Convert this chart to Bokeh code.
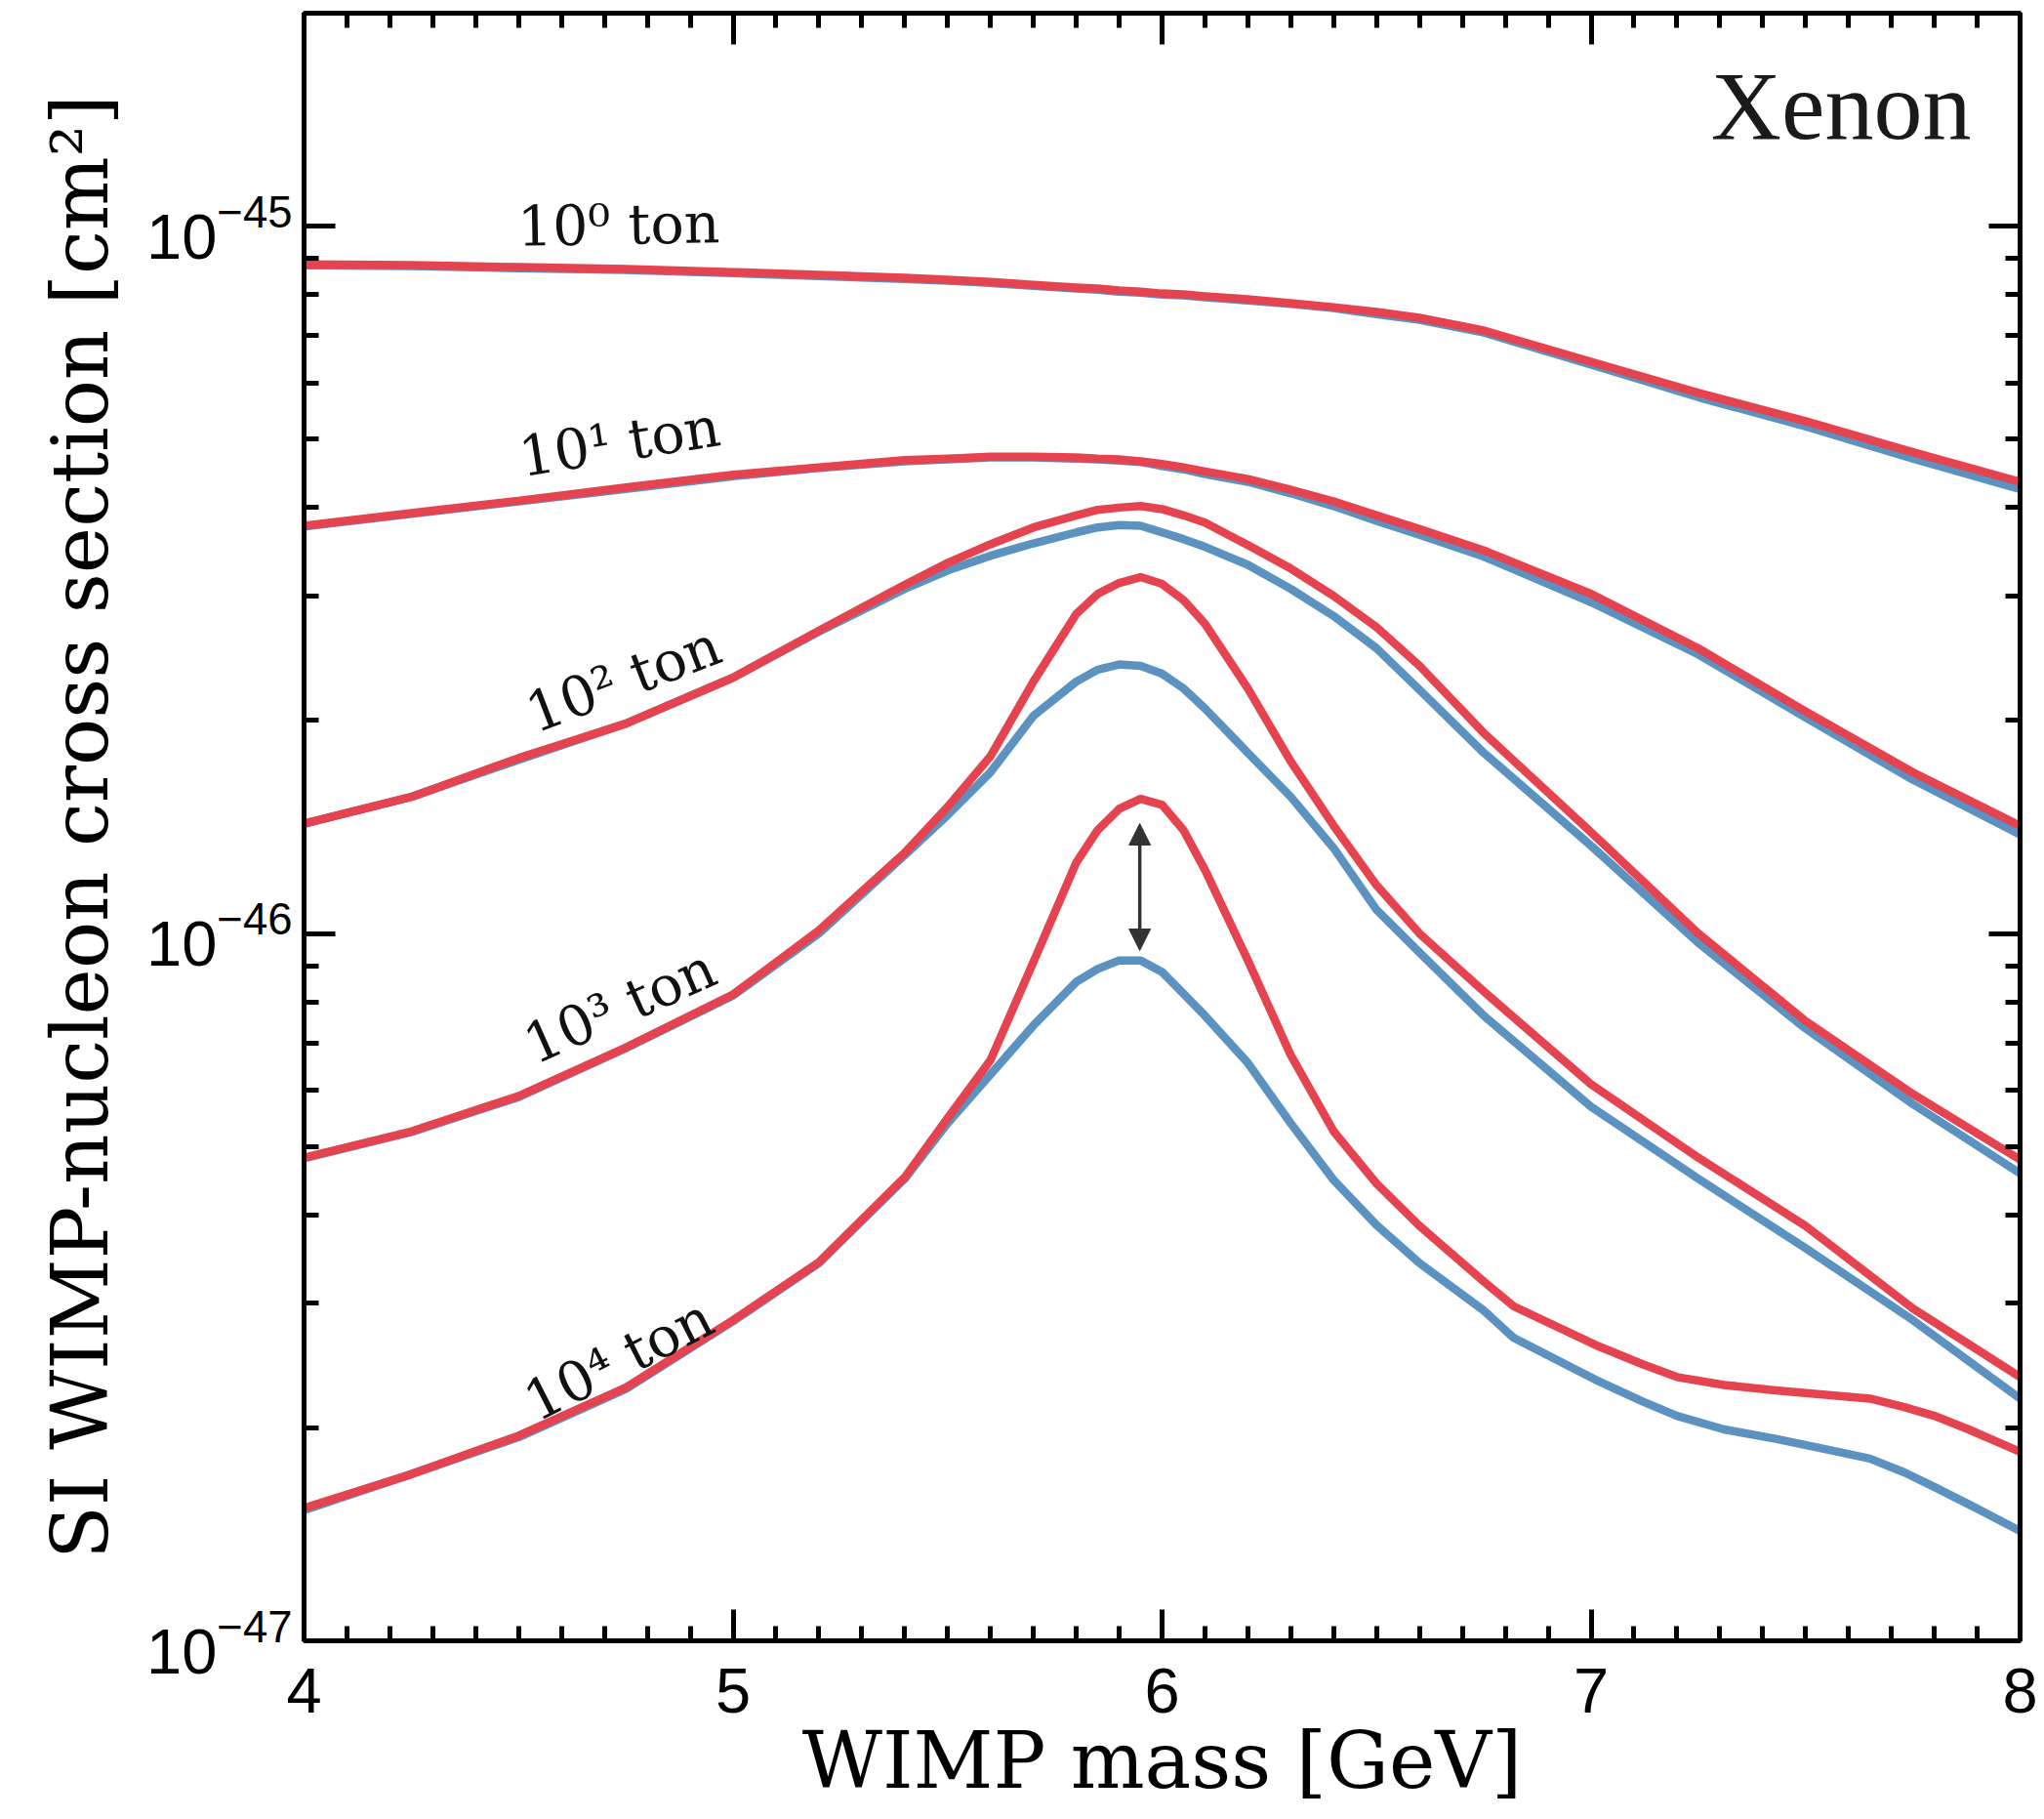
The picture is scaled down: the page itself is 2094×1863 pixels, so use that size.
from bokeh.plotting import figure
from bokeh.models import (ColumnDataSource, LinearAxis, LogAxis, FixedTicker,
                          SingleIntervalTicker, Arrow, NormalHead, Label,
                          CustomJSTickFormatter, LogTickFormatter)
from bokeh.core.properties import value
from bokeh.embed import file_html
from bokeh.resources import INLINE
import numpy as np

# ---------------- data ----------------
# WIMP mass [GeV]
mass = [4.0, 4.25, 4.5, 4.75, 5.0, 5.2, 5.4, 5.5, 5.6, 5.7, 5.8, 5.85, 5.9, 5.95,
        6.0, 6.05, 6.1, 6.2, 6.3, 6.4, 6.5, 6.6, 6.75, 7.0, 7.25, 7.5, 7.75, 8.0]
# the 10^4 ton curves were read on a finer grid in the tail
mass_1e4 = [4.0, 4.25, 4.5, 4.75, 5.0, 5.2, 5.4, 5.5, 5.6, 5.7, 5.8, 5.85, 5.9, 5.95,
            6.0, 6.05, 6.1, 6.2, 6.3, 6.4, 6.5, 6.6, 6.75, 6.82, 7.01, 7.12, 7.2, 7.31,
            7.43, 7.54, 7.65, 7.73, 7.8, 7.88, 8.0]

UNIT = 1e-46  # cross sections below are in units of 1e-46 cm^2

# exposure 10^0 ton
red_1e0 = [8.83, 8.81, 8.75, 8.70, 8.61, 8.53, 8.45, 8.40, 8.34, 8.26, 8.19, 8.16, 8.11, 8.08,
           8.03, 8.01, 7.96, 7.88, 7.78, 7.68, 7.56, 7.42, 7.12, 6.43, 5.81, 5.30, 4.79, 4.35]
blue_1e0 = [8.80, 8.78, 8.72, 8.67, 8.58, 8.50, 8.42, 8.37, 8.31, 8.23, 8.16, 8.13, 8.08, 8.05,
            8.00, 7.98, 7.93, 7.85, 7.76, 7.66, 7.51, 7.37, 7.07, 6.37, 5.73, 5.21, 4.69, 4.25]
# exposure 10^1 ton
red_1e1 = [3.77, 3.93, 4.09, 4.27, 4.45, 4.56, 4.67, 4.69, 4.72, 4.72, 4.71, 4.69, 4.68, 4.65,
           4.61, 4.56, 4.50, 4.39, 4.24, 4.08, 3.90, 3.73, 3.48, 3.02, 2.53, 2.06, 1.69, 1.42]
blue_1e1 = [3.76, 3.92, 4.08, 4.25, 4.43, 4.55, 4.65, 4.68, 4.71, 4.71, 4.69, 4.68, 4.66, 4.64,
            4.58, 4.53, 4.46, 4.35, 4.19, 4.02, 3.83, 3.66, 3.41, 2.94, 2.48, 2.02, 1.65, 1.38]
# exposure 10^2 ton
red_1e2 = [1.43, 1.56, 1.77, 1.98, 2.30, 2.68, 3.11, 3.34, 3.55, 3.75, 3.90, 3.97, 4.00, 4.02,
           3.98, 3.90, 3.81, 3.54, 3.28, 3.00, 2.71, 2.39, 1.92, 1.39, 1.00, 0.752, 0.593, 0.479]
blue_1e2 = [1.43, 1.56, 1.76, 1.98, 2.30, 2.67, 3.07, 3.26, 3.42, 3.56, 3.69, 3.75, 3.78, 3.77,
            3.69, 3.61, 3.52, 3.32, 3.07, 2.81, 2.53, 2.21, 1.80, 1.33, 0.970, 0.734, 0.574, 0.458]
# exposure 10^3 ton
red_1e3 = [0.482, 0.525, 0.589, 0.690, 0.820, 1.01, 1.30, 1.51, 1.78, 2.27, 2.83, 3.02, 3.13, 3.19,
           3.12, 2.96, 2.74, 2.22, 1.75, 1.42, 1.17, 1.00, 0.828, 0.612, 0.482, 0.386, 0.295, 0.236]
blue_1e3 = [0.481, 0.524, 0.587, 0.688, 0.817, 1.00, 1.29, 1.47, 1.69, 2.03, 2.27, 2.36, 2.40, 2.39,
            2.33, 2.22, 2.08, 1.80, 1.56, 1.32, 1.08, 0.940, 0.765, 0.569, 0.450, 0.359, 0.284, 0.220]
# exposure 10^4 ton (on mass_1e4)
red_1e4 = [0.154, 0.172, 0.195, 0.228, 0.284, 0.343, 0.452, 0.548, 0.662, 0.911, 1.26, 1.40, 1.50, 1.55,
           1.52, 1.40, 1.23, 0.916, 0.673, 0.525, 0.443, 0.386, 0.322, 0.297, 0.262, 0.246, 0.236, 0.230,
           0.226, 0.223, 0.220, 0.214, 0.208, 0.199, 0.185]
blue_1e4 = [0.153, 0.172, 0.194, 0.227, 0.283, 0.342, 0.450, 0.539, 0.632, 0.741, 0.854, 0.891, 0.916, 0.916,
            0.882, 0.822, 0.765, 0.656, 0.539, 0.448, 0.387, 0.342, 0.293, 0.268, 0.234, 0.218, 0.208, 0.199,
            0.193, 0.187, 0.181, 0.173, 0.165, 0.156, 0.143]

red_series = [(mass, red_1e0), (mass, red_1e1), (mass, red_1e2), (mass, red_1e3), (mass_1e4, red_1e4)]
blue_series = [(mass, blue_1e0), (mass, blue_1e1), (mass, blue_1e2), (mass, blue_1e3), (mass_1e4, blue_1e4)]

# curve labels
label_text = ["10\u2070 ton", "10\u00b9 ton", "10\u00b2 ton", "10\u00b3 ton", "10\u2074 ton"]
label_mass = [4.733, 4.735, 4.744, 4.736, 4.733]
label_sigma = [10.05, 4.96, 2.29, 0.79, 0.25]   # units of 1e-46
label_angle = [1, 9, 21, 24, 27]                # degrees

# arrow annotation
arrow_mass = 5.948
arrow_low = 0.946    # units of 1e-46
arrow_high = 1.43

# axis tick values
y_major = [1e-47, 1e-46, 1e-45]
y_minor = [k * 10.0 ** e for e in (-47, -46, -45) for k in range(2, 10)]

RED = "#E5434F"
BLUE = "#5B92BF"

# ---------------- figure ----------------
p = figure(width=2094, height=1863, x_range=(4, 8), y_range=(1e-47, 2e-45),
           y_axis_type="log", output_backend="svg", toolbar_location=None,
           min_border_left=311, min_border_right=25, min_border_top=13,
           min_border_bottom=183, background_fill_color="white",
           border_fill_color="white")
p.xgrid.visible = False
p.ygrid.visible = False
p.outline_line_color = "black"
p.outline_line_width = 5

for mx, b in blue_series:
    p.line(np.array(mx), np.array(b) * UNIT, line_color=BLUE, line_width=8.5, line_join="round")
for mx, r in red_series:
    p.line(np.array(mx), np.array(r) * UNIT, line_color=RED, line_width=8.5, line_join="round")

src = ColumnDataSource(dict(x=label_mass, y=[v * UNIT for v in label_sigma],
                            t=label_text, a=label_angle))
p.text(x="x", y="y", text="t", angle="a", angle_units="deg", source=src,
       text_font=value("DejaVu Serif"), text_font_size=value("57px"),
       text_align="center", text_baseline="alphabetic", text_color="#111111")

head = dict(size=22, fill_color="#333333", line_color="#333333", line_width=1)
p.add_layout(Arrow(start=NormalHead(**head), end=NormalHead(**head),
                   x_start=arrow_mass, y_start=arrow_low * UNIT,
                   x_end=arrow_mass, y_end=arrow_high * UNIT,
                   line_color="#333333", line_width=3.5))

p.add_layout(Label(x=7.886, y=14.8 * UNIT, text="Xenon", text_align="right",
                   text_baseline="alphabetic", text_font="Liberation Serif",
                   text_font_size="100px", text_color="#1a1a1a"))

# ---------------- axes ----------------
xtick = SingleIntervalTicker(interval=1, num_minor_ticks=10)
ytick = FixedTicker(ticks=y_major, minor_ticks=y_minor)


def style(ax):
    ax.axis_line_width = 5
    ax.axis_line_color = "black"
    ax.major_tick_in = 32
    ax.major_tick_out = 0
    ax.minor_tick_in = 15
    ax.minor_tick_out = 0
    ax.major_tick_line_width = 5
    ax.minor_tick_line_width = 5
    ax.major_tick_line_color = "black"
    ax.minor_tick_line_color = "black"


xa = p.xaxis[0]
xa.ticker = xtick
style(xa)
xa.major_label_text_font = "Liberation Sans"
xa.major_label_text_font_size = "65px"
xa.major_label_text_color = "black"
xa.major_label_standoff = 28
xa.axis_label = "WIMP mass [GeV]"
xa.axis_label_text_font = "DejaVu Serif"
xa.axis_label_text_font_style = "normal"
xa.axis_label_text_font_size = "80px"
xa.axis_label_text_color = "black"
xa.axis_label_standoff = 0

ya = p.yaxis[0]
ya.ticker = ytick
ya.formatter = LogTickFormatter()
style(ya)
ya.major_label_text_font = "Liberation Sans"
ya.major_label_text_font_size = "65px"
ya.major_label_text_color = "black"
ya.major_label_standoff = 12
ya.axis_label = "SI WIMP-nucleon cross section [cm\u00b2]"
ya.axis_label_text_font = "DejaVu Serif"
ya.axis_label_text_font_style = "normal"
ya.axis_label_text_font_size = "80px"
ya.axis_label_text_color = "black"
ya.axis_label_standoff = 18

top = LinearAxis(ticker=xtick, formatter=CustomJSTickFormatter(code="return ''"),
                 major_label_text_font_size="0px", major_label_standoff=0)
style(top)
p.add_layout(top, "above")
right = LogAxis(ticker=ytick, formatter=CustomJSTickFormatter(code="return ''"),
                major_label_text_font_size="0px", major_label_standoff=0)
style(right)
p.add_layout(right, "right")

open("out.html", "w").write(file_html(p, INLINE))
